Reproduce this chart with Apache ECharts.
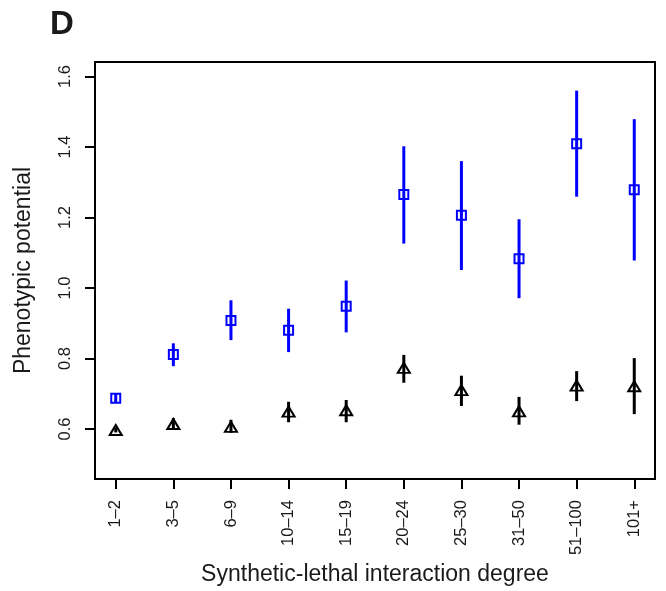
<!DOCTYPE html>
<html>
<head>
<meta charset="utf-8">
<script src="https://cdn.jsdelivr.net/npm/echarts@6/dist/echarts.min.js"></script>
<style>
html, body { margin: 0; padding: 0; background: #fff; }
#chart { width: 666px; height: 591px; }
</style>
</head>
<body>
<div id="chart"></div>
<script>
// ---- Data ----
var categories = ['1–2', '3–5', '6–9', '10–14', '15–19', '20–24', '25–30', '31–50', '51–100', '101+'];
var blueMean = [0.687, 0.811, 0.908, 0.880, 0.948, 1.265, 1.206, 1.083, 1.409, 1.279];
var blueLow  = [0.674, 0.778, 0.852, 0.818, 0.874, 1.126, 1.051, 0.971, 1.259, 1.078];
var blueHigh = [0.700, 0.843, 0.965, 0.941, 1.021, 1.402, 1.360, 1.195, 1.560, 1.479];
var blackMean = [0.597, 0.614, 0.606, 0.649, 0.653, 0.773, 0.710, 0.650, 0.723, 0.721];
var blackLow  = [0.590, 0.600, 0.589, 0.619, 0.619, 0.731, 0.665, 0.612, 0.679, 0.642];
var blackHigh = [0.604, 0.631, 0.626, 0.677, 0.682, 0.810, 0.751, 0.691, 0.764, 0.801];
var yTickValues = [0.6, 0.8, 1.0, 1.2, 1.4, 1.6];
var yTickLabels = ['0.6', '0.8', '1.0', '1.2', '1.4', '1.6'];
var panelLabel = 'D';
var xTitle = 'Synthetic-lethal interaction degree';
var yTitle = 'Phenotypic potential';

// ---- Build ----
var xPositions = categories.map(function (c, i) { return i + 1; });
function pts(mean) { return mean.map(function (v, i) { return [i + 1, v]; }); }
function bars(lo, hi) { return lo.map(function (v, i) { return [i + 1, v, hi[i]]; }); }

function errRender(color) {
  return function (params, api) {
    var x = api.value(0);
    var p1 = api.coord([x, api.value(1)]);
    var p2 = api.coord([x, api.value(2)]);
    return {
      type: 'line',
      shape: { x1: p1[0], y1: p1[1], x2: p2[0], y2: p2[1] },
      style: { stroke: color, lineWidth: 3, lineCap: 'butt' }
    };
  };
}

var FONT = "'Liberation Sans', Arial, Helvetica, sans-serif";
var chart = echarts.init(document.getElementById('chart'), null, { renderer: 'canvas' });
chart.setOption({
  animation: false,
  backgroundColor: '#ffffff',
  textStyle: { fontFamily: FONT },
  title: {
    text: panelLabel,
    left: 50, top: 8, padding: 0,
    textStyle: { fontFamily: FONT, fontSize: 33, fontWeight: 'bold', color: '#1a1a1a' }
  },
  grid: {
    left: 95, right: 11, top: 62, bottom: 107,
    show: true, borderColor: '#000', borderWidth: 2, backgroundColor: 'transparent'
  },
  xAxis: {
    type: 'value',
    min: 0.64, max: 10.36,
    name: xTitle,
    nameLocation: 'middle',
    nameGap: 77,
    nameTextStyle: { fontFamily: FONT, fontSize: 23, color: '#1a1a1a' },
    splitLine: { show: false },
    axisLine: { show: false },
    axisTick: { show: true, length: 10, lineStyle: { color: '#000', width: 2 }, customValues: xPositions },
    axisLabel: {
      customValues: xPositions,
      rotate: 90, margin: 21,
      fontFamily: FONT, fontSize: 16.5, color: '#1a1a1a',
      formatter: function (v) { return categories[Math.round(v) - 1]; }
    }
  },
  yAxis: {
    type: 'value',
    min: 0.4578, max: 1.6412,
    name: yTitle,
    nameLocation: 'middle',
    nameGap: 60,
    nameTextStyle: { fontFamily: FONT, fontSize: 23, color: '#1a1a1a' },
    splitLine: { show: false },
    axisLine: { show: false },
    axisTick: { show: true, length: 10, lineStyle: { color: '#000', width: 2 }, customValues: yTickValues },
    axisLabel: {
      customValues: yTickValues,
      rotate: 90, margin: 21,
      fontFamily: FONT, fontSize: 16.5, color: '#1a1a1a',
      formatter: function (v) {
        for (var i = 0; i < yTickValues.length; i++) {
          if (Math.abs(yTickValues[i] - v) < 1e-6) return yTickLabels[i];
        }
        return '';
      }
    }
  },
  series: [
    {
      type: 'custom', name: 'blueErr', data: bars(blueLow, blueHigh),
      renderItem: errRender('#0000ff'), z: 2
    },
    {
      type: 'custom', name: 'blackErr', data: bars(blackLow, blackHigh),
      renderItem: errRender('#000000'), z: 2
    },
    {
      type: 'scatter', name: 'blue', data: pts(blueMean),
      symbol: 'rect', symbolSize: 9,
      itemStyle: { color: 'rgba(0,0,0,0)', borderColor: '#0000ff', borderWidth: 2, opacity: 1 },
      z: 3
    },
    {
      type: 'scatter', name: 'black', data: pts(blackMean),
      symbol: 'triangle', symbolSize: [12, 10],
      itemStyle: { color: 'rgba(0,0,0,0)', borderColor: '#000000', borderWidth: 2, opacity: 1 },
      z: 3
    }
  ]
});
</script>
</body>
</html>
